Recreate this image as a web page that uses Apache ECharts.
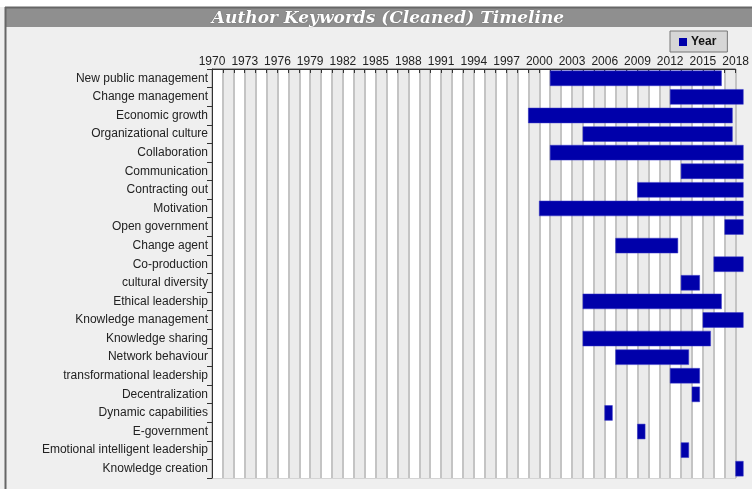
<!DOCTYPE html>
<html>
<head>
<meta charset="utf-8">
<script src="https://cdn.jsdelivr.net/npm/echarts@6/dist/echarts.min.js"></script>
<style>html,body{margin:0;padding:0;background:#fff}#c{width:752px;height:489px}</style>
</head>
<body>
<div id="c"></div>
<script>
const categories = ['New public management','Change management','Economic growth','Organizational culture','Collaboration','Communication','Contracting out','Motivation','Open government','Change agent','Co-production','cultural diversity','Ethical leadership','Knowledge management','Knowledge sharing','Network behaviour','transformational leadership','Decentralization','Dynamic capabilities','E-government','Emotional intelligent leadership','Knowledge creation'];
const startYears = [2001,2012,1999,2004,2001,2013,2009,2000,2017,2007,2016,2013,2004,2015,2004,2007,2012,2014,2006,2009,2013,2018];
const endYears   = [2016,2018,2017,2017,2018,2018,2018,2018,2018,2012,2018,2014,2016,2018,2015,2013,2014,2014,2006,2009,2013,2018];
const data = categories.map((c,i)=>[i,startYears[i],endYears[i]]);

const chart = echarts.init(document.getElementById('c'));
chart.setOption({
  backgroundColor:'#efefef',
  animation:false,
  graphic:[
    {type:'rect',shape:{x:0,y:0,width:752,height:7},style:{fill:'#ffffff'},silent:true},
    {type:'rect',shape:{x:6,y:8,width:746,height:19},style:{fill:'#8f8f8f'},silent:true},
    {type:'line',shape:{x1:5.5,y1:7,x2:5.5,y2:489},style:{stroke:'#666',lineWidth:2},silent:true},
    {type:'line',shape:{x1:5,y1:7.5,x2:752,y2:7.5},style:{stroke:'#666',lineWidth:2},silent:true}
  ],
  title:{
    text:'Author Keywords (Cleaned) Timeline',
    left:383, textAlign:'center', top:5,
    textStyle:{fontFamily:'DejaVu Serif',fontStyle:'italic',fontWeight:'bold',fontSize:17,color:'#ffffff',textShadowColor:'rgba(0,0,0,0.5)',textShadowBlur:1}
  },
  legend:{
    data:['Year'], left:670, top:31, icon:'rect', itemWidth:8, itemHeight:8, itemGap:4,
    backgroundColor:'#d6d6d6', borderColor:'#777', borderWidth:1, padding:[5,11,4,9],
    textStyle:{fontFamily:'Liberation Sans',fontWeight:'bold',fontSize:12,color:'#111',padding:[0,0,0,-1]}
  },
  grid:{left:212,right:14,top:69,bottom:11,show:true,borderColor:'#555',borderWidth:1},
  xAxis:{
    type:'value', position:'top', min:1970, max:2018, interval:1,
    axisLine:{show:true,lineStyle:{color:'#333',width:1}},
    axisTick:{show:true,inside:true,length:4,lineStyle:{color:'#333'}},
    axisLabel:{margin:1,fontFamily:'Liberation Sans',fontSize:12,color:'#222',
      formatter:v=>((v-1970)%3===0?String(v):'')},
    splitLine:{show:true,lineStyle:{color:'#c4c4c4',width:2}},
    splitArea:{show:true,areaStyle:{color:['#ffffff','#ebebeb']}}
  },
  yAxis:{
    type:'category', data:categories, inverse:true,
    axisLine:{show:true,lineStyle:{color:'#333'}},
    axisTick:{show:true,length:5,lineStyle:{color:'#333'}},
    axisLabel:{margin:4,fontFamily:'Liberation Sans',fontSize:12,color:'#222'},
    splitLine:{show:true,lineStyle:{color:'#d4d4d4',width:1}}
  },
  series:[{
    name:'Year', type:'custom', data:data, encode:{x:[1,2],y:0},
    itemStyle:{color:'#0000aa'},
    renderItem:function(params,api){
      const idx=api.value(0), s=api.value(1), e=api.value(2);
      const p0=api.coord([s,idx]), p1=api.coord([e+0.7,idx]);
      const h=api.size([0,1])[1]*0.8;
      return {type:'rect',shape:{x:p0[0],y:p0[1]-h/2,width:p1[0]-p0[0],height:h},
        style:{fill:'#0000aa',stroke:'#3a3ac8',lineWidth:0.5}};
    }
  }]
});
</script>
</body>
</html>
